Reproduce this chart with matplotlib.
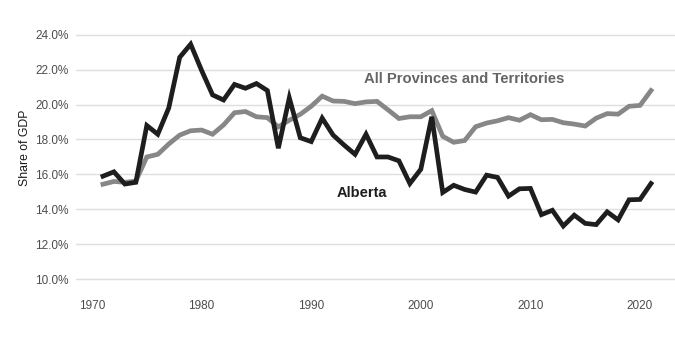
import matplotlib.pyplot as plt
from matplotlib.ticker import FuncFormatter

plt.rcParams['font.family'] = ['Liberation Sans', 'DejaVu Sans']

years = list(range(1971, 2022))

# Government spending as a share of GDP (%)
alberta = [15.9, 16.15, 15.45, 15.55, 18.8, 18.3, 19.8, 22.7, 23.45, 21.95,
           20.55, 20.26, 21.15, 20.93, 21.2, 20.8, 17.5, 20.38, 18.1, 17.88,
           19.22, 18.25, 17.68, 17.15, 18.3, 17.0, 17.0, 16.78, 15.48, 16.3,
           19.3, 14.97, 15.38, 15.14, 14.99, 15.96, 15.83, 14.76, 15.18, 15.2,
           13.7, 13.95, 13.05, 13.67, 13.2, 13.13, 13.86, 13.4, 14.55, 14.57,
           15.48]
all_provinces = [15.44, 15.6, 15.55, 15.62, 17.0, 17.15, 17.74, 18.25, 18.5, 18.54,
                 18.3, 18.83, 19.53, 19.6, 19.3, 19.25, 18.72, 19.1, 19.44, 19.9,
                 20.48, 20.2, 20.18, 20.05, 20.15, 20.18, 19.7, 19.2, 19.3, 19.3,
                 19.65, 18.18, 17.84, 17.94, 18.73, 18.94, 19.07, 19.25, 19.1, 19.42,
                 19.13, 19.15, 18.96, 18.88, 18.77, 19.22, 19.48, 19.45, 19.9, 19.95,
                 20.8]

y_ticks = [10, 12, 14, 16, 18, 20, 22, 24]
x_ticks = [1970, 1980, 1990, 2000, 2010, 2020]

fig = plt.figure(figsize=(6.75, 3.41), dpi=100)
ax = fig.add_axes([0.1126, 0.1496, 0.8874, 0.7771])

ax.plot(years, all_provinces, color='#878787', linewidth=3.4, solid_joinstyle='miter', zorder=3)
ax.plot(years, alberta, color='#1e1e1e', linewidth=3.4, solid_joinstyle='miter', zorder=4)

ax.text(2004.0, 21.46, 'All Provinces and Territories', color='#666666',
        fontsize=10.7, fontweight='bold', ha='center', va='center')
ax.text(1994.6, 14.91, 'Alberta', color='#1e1e1e',
        fontsize=10.5, fontweight='bold', ha='center', va='center')

ax.set_xlim(1968.54, 2023.19)
ax.set_ylim(9.39, 24.55)
ax.set_yticks(y_ticks)
ax.set_xticks(x_ticks)
ax.yaxis.set_major_formatter(FuncFormatter(lambda v, _: f'{v:.1f}%'))

ax.grid(axis='y', color='#dedede', linewidth=1.0)
ax.set_axisbelow(True)
for side in ax.spines.values():
    side.set_visible(False)
ax.tick_params(length=0, labelsize=8.5, labelcolor='#4d4d4d')
ax.tick_params(axis='y', pad=5.5)
ax.tick_params(axis='x', pad=7)

ax.set_ylabel('Share of GDP', fontsize=8.8, color='#1a1a1a')
ax.yaxis.set_label_coords(-0.075, 0.536)

fig.savefig('out.png', dpi=100)
